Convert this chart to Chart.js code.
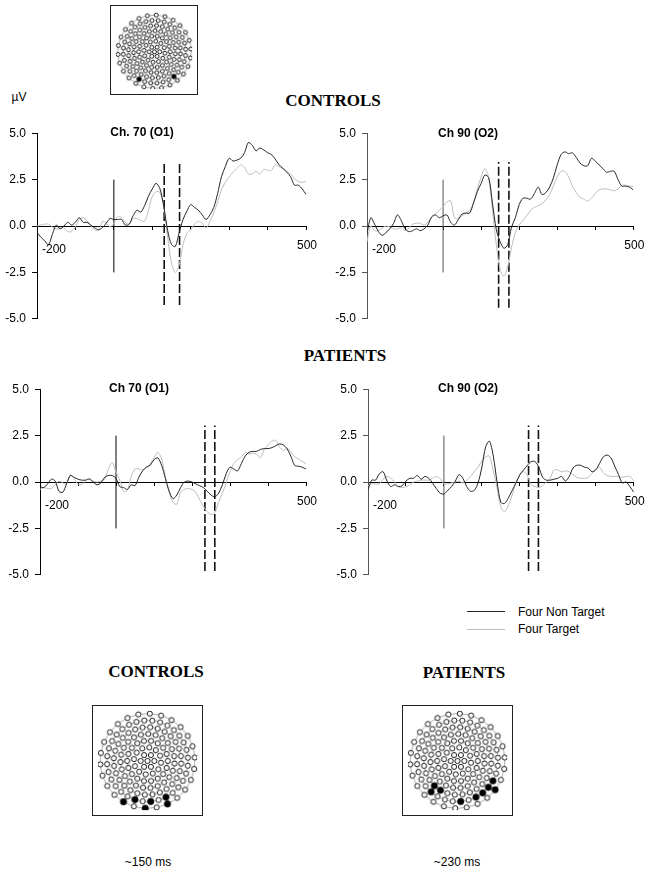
<!DOCTYPE html>
<html>
<head>
<meta charset="utf-8">
<script src="https://cdn.jsdelivr.net/npm/chart.js@4"></script>
<style>
  body { margin: 0; background: #fff; }
  #page { position: relative; width: 645px; height: 876px; overflow: hidden; font-family: "Liberation Sans", Arial, sans-serif; color: #000; }
  canvas { position: absolute; }
  canvas.map { border: 1px solid #222; }
  .t { position: absolute; white-space: nowrap; transform: translate(-50%, -50%); }
  .grp { font-family: "Liberation Serif", "Times New Roman", serif; font-weight: bold; font-size: 17px; }
  .ch { font-weight: bold; font-size: 12px; }
  .lab { font-size: 12px; }
  .key { position: absolute; left: 467px; width: 38px; }
  .keytxt { position: absolute; left: 518px; font-size: 12px; transform: translateY(-50%); white-space: nowrap; }
</style>
</head>
<body>
<div id="page">
  <canvas id="mapTop" class="map" width="88" height="90" style="left:110px;top:5px"></canvas>
  <div class="t lab" style="left:19px;top:97px">µV</div>
  <div class="t grp" style="left:333px;top:101px">CONTROLS</div>

  <canvas id="ctrlO1" width="330" height="212" style="left:0;top:120px"></canvas>
  <canvas id="ctrlO2" width="315" height="212" style="left:330px;top:120px"></canvas>
  <div class="t ch" style="left:142px;top:132px">Ch. 70 (O1)</div>
  <div class="t ch" style="left:468px;top:133px">Ch 90 (O2)</div>

  <div class="t grp" style="left:345px;top:356px">PATIENTS</div>
  <canvas id="patO1" width="327" height="212" style="left:3px;top:376px"></canvas>
  <canvas id="patO2" width="314" height="212" style="left:331px;top:376px"></canvas>
  <div class="t ch" style="left:139px;top:388px">Ch 70 (O1)</div>
  <div class="t ch" style="left:468px;top:388px">Ch 90 (O2)</div>

  <div class="key" style="top:611px;border-top:1.3px solid #262626"></div>
  <div class="keytxt" style="top:612px">Four Non Target</div>
  <div class="key" style="top:629px;border-top:1px solid #bdbdbd"></div>
  <div class="keytxt" style="top:629px">Four Target</div>

  <div class="t grp" style="left:156px;top:672px">CONTROLS</div>
  <div class="t grp" style="left:464px;top:673px">PATIENTS</div>
  <canvas id="mapCtrl" class="map" width="111" height="111" style="left:92px;top:705px"></canvas>
  <canvas id="mapPat" class="map" width="111" height="111" style="left:402px;top:705px"></canvas>
  <div class="t lab" style="left:148px;top:862px">~150 ms</div>
  <div class="t lab" style="left:457px;top:862px">~230 ms</div>
</div>

<script>
// Time axis (ms) shared by all four ERP panels
const times = [-200, -190, -180, -170, -160, -150, -140, -130, -120, -110, -100, -90, -80, -70, -60, -50, -40, -30, -20, -10,
  0, 10, 20, 30, 40, 50, 60, 70, 80, 90, 100, 110, 120, 130, 140, 150, 160, 170, 180, 190,
  200, 210, 220, 230, 240, 250, 260, 270, 280, 290, 300, 310, 320, 330, 340, 350, 360, 370, 380, 390,
  400, 410, 420, 430, 440, 450, 460, 470, 480, 490, 500];

// Controls, Ch. 70 (O1)
const ctrlO1NonTarget = [-0.35, -0.6, -0.8, -1.0, -0.45, 0.05, -0.15, 0.0, 0.2, 0.05, 0.2, 0.45, 0.2, 0.2, 0.05, -0.1, -0.2, -0.1, 0.15, 0.4,
  0.35, 0.35, 0.35, 0.05, 0.1, 0.55, 0.85, 0.75, 1.1, 1.6, 2.0, 2.3, 2.0, 1.05, -0.25, -1.0, -1.1, -0.35, 0.35, 0.8,
  1.15, 1.0, 0.85, 0.6, 0.35, 0.6, 1.0, 1.75, 2.65, 3.2, 3.65, 3.5, 3.55, 3.65, 3.95, 4.5, 4.35, 4.05, 4.2, 4.1,
  3.95, 3.85, 3.6, 3.3, 3.1, 2.9, 2.65, 2.2, 2.2, 2.0, 1.7];
const ctrlO1Target = [0.0, 0.05, 0.1, 0.1, -0.05, -0.15, -0.15, -0.1, -0.3, -0.3, -0.05, 0.35, 0.45, 0.3, 0.0, -0.2, -0.25, 0.25, 0.15, -0.05,
  0.15, 0.5, 0.45, 0.2, 0.1, 0.4, 0.4, 0.3, 0.25, 0.85, 1.6, 1.85, 1.8, 1.0, -0.6, -2.0, -2.5, -2.1, -1.0, -0.4,
  -0.2, 0.1, 0.25, 0.15, -0.1, 0.25, 0.7, 1.3, 1.95, 2.35, 2.65, 2.9, 3.1, 3.3, 3.15, 2.8, 2.8, 2.95, 2.8, 3.05,
  3.0, 3.0, 3.3, 3.2, 3.1, 2.95, 2.8, 2.55, 2.4, 2.35, 2.4];

// Controls, Ch 90 (O2)
const ctrlO2NonTarget = [-0.4, 0.45, 0.1, -0.3, -0.5, -0.35, -0.15, 0.15, 0.6, 0.3, -0.15, -0.3, -0.25, -0.15, -0.25, -0.15, 0.05, 0.5, 0.6, 0.45,
  0.55, 0.6, 0.2, 0.05, 0.35, 0.65, 0.7, 0.7, 1.25, 1.85, 2.3, 2.75, 2.6, 1.2, -0.2, -0.85, -1.2, -1.0, -0.05, 0.45,
  1.15, 1.5, 1.5, 1.45, 1.75, 2.1, 1.7, 1.8, 2.1, 2.6, 3.3, 3.85, 4.0, 3.9, 3.95, 3.7, 3.4, 3.25, 3.25, 3.65,
  3.5, 3.3, 3.1, 2.9, 2.95, 2.95, 2.5, 2.15, 2.15, 2.1, 1.95];
const ctrlO2Target = [-0.85, 0.0, -0.25, -0.25, -0.1, 0.0, -0.05, -0.15, -0.15, -0.1, -0.25, -0.1, 0.1, 0.15, 0.15, 0.05, 0.2, 0.45, 0.65, 0.85,
  1.05, 1.3, 1.35, 0.45, 0.4, 0.55, 0.7, 0.85, 1.25, 2.0, 2.65, 3.1, 2.6, 0.8, -1.0, -2.35, -2.7, -2.2, -1.15, -0.35,
  0.05, 0.3, 0.55, 0.85, 1.0, 1.1, 1.2, 1.4, 1.7, 2.15, 2.65, 2.95, 2.95, 2.65, 2.15, 1.8, 1.55, 1.45, 1.35, 1.5,
  1.75, 1.95, 2.0, 2.0, 1.95, 1.9, 2.0, 2.2, 2.2, 2.15, 2.15];

// Patients, Ch 70 (O1)
const patO1NonTarget = [-0.25, -0.3, -0.1, 0.15, 0.05, -0.5, -0.55, -0.1, 0.35, 0.25, 0.15, 0.1, 0.1, 0.15, 0.0, -0.15, -0.05, 0.25, 0.35, 0.35,
  0.2, -0.25, -0.3, -0.4, -0.15, -0.2, 0.25, 0.6, 0.8, 0.9, 1.2, 1.3, 0.9, 0.2, -0.5, -0.9, -0.7, -0.3, 0.0, 0.05,
  0.0, -0.1, -0.2, -0.3, -0.5, -0.7, -0.8, -0.6, -0.15, 0.45, 0.8, 0.7, 0.6, 1.0, 1.4, 1.6, 1.65, 1.65, 1.75, 1.8,
  1.8, 1.85, 1.95, 2.05, 2.0, 1.8, 1.4, 0.9, 0.85, 0.8, 0.7];
const patO1Target = [-0.4, -0.3, -0.35, -0.35, -0.15, 0.05, -0.05, -0.1, 0.4, 0.15, -0.1, -0.15, 0.1, 0.2, 0.05, 0.0, 0.05, 0.15, 0.7, 1.05,
  0.55, 0.1, -0.5, -0.45, 0.3, 0.7, 0.7, 0.65, 0.75, 1.0, 1.3, 1.6, 1.25, 0.25, -0.55, -1.1, -1.2, -0.55, -0.4, -0.35,
  -0.4, -0.55, -0.95, -1.3, -1.6, -1.75, -1.65, -1.1, -0.6, -0.05, 0.55, 1.0, 1.2, 1.35, 1.6, 1.5, 1.55, 1.5, 1.3, 1.75,
  2.0, 2.2, 2.25, 1.9, 1.7, 1.8, 1.65, 1.35, 1.25, 1.1, 1.0];

// Patients, Ch 90 (O2)
const patO2NonTarget = [-0.4, 0.1, 0.1, 0.45, 0.55, 0.05, -0.25, -0.15, -0.25, -0.2, 0.05, 0.2, 0.2, 0.35, 0.15, 0.3, 0.2, -0.05, -0.35, -0.6,
  -0.65, -0.45, -0.25, 0.05, 0.4, 0.2, -0.25, -0.5, -0.45, -0.05, 0.8, 1.9, 2.2, 1.4, 0.0, -1.1, -1.15, -0.85, -0.45, -0.05,
  0.4, 0.65, 0.9, 1.1, 1.1, 0.8, 0.25, 0.1, 0.1, 0.15, 0.2, 0.3, 0.05, 0.3, 0.75, 0.9, 0.9, 0.8, 0.75, 0.55,
  0.65, 1.0, 1.35, 1.45, 1.3, 0.85, 0.4, -0.05, 0.0, -0.25, -0.55];
const patO2Target = [-0.2, -0.1, -0.1, -0.1, 0.15, 0.3, 0.2, 0.0, -0.25, -0.3, -0.25, -0.15, 0.0, 0.05, 0.1, 0.1, 0.1, 0.2, 0.3, 0.2,
  -0.1, -0.1, -0.05, 0.0, 0.05, -0.05, 0.1, 0.3, 0.55, 0.8, 1.15, 1.35, 1.4, 0.6, -0.3, -1.35, -1.6, -1.25, -0.7, 0.0,
  0.35, 0.55, 0.35, -0.15, -0.25, -0.3, -0.2, 0.0, 0.2, 0.65, 0.65, 0.55, 0.6, 0.55, 0.4, 0.25, 0.2, 0.2, 0.25, 0.45,
  0.7, 0.8, 0.5, 0.35, 0.3, 0.3, 0.3, 0.25, 0.3, 0.3, 0.05];

// Axis ticks and markers
const yTicks = [-5, -2.5, 0, 2.5, 5];
const xTickLabels = [-200, 500];
const stimulusSpan = [-2.5, 2.5];
const ctrlO1Window = [131, 171];
const ctrlO2Window = [146, 173];
const patO1Window = [234, 260];
const patO2Window = [223, 249];
const ctrlO1WindowSpan = [-4.25, 3.5];
const ctrlO2WindowSpan = [-4.4, 3.45];
const patWindowSpan = [-4.8, 3.05];

// Electrode montage (head radius = 1)
const ringRadius = [0, 0.14, 0.28, 0.42, 0.56, 0.70, 0.84, 0.98];
const ringCount = [1, 6, 12, 18, 23, 28, 32, 26];
const ringTurn = [0, 0.5, 0.25, 0.5, 0.1, 0.35, 0.6, 0.2];
const headRings = [0.42, 0.56, 0.70, 0.84, 0.98];
const topActive = [[-0.38, -0.76], [0.5, -0.76]];
const ctrlActive = [[-0.49, -0.81], [-0.29, -0.81], [0.36, -0.69], [0.4, -0.83], [0.08, -0.9], [-0.08, -0.98]];
const patActive = [[0.71, -0.35], [-0.48, -0.51], [0.6, -0.51], [-0.56, -0.63], [0.8, -0.63], [-0.31, -0.69], [0.58, -0.69], [0.37, -0.76], [0.1, -0.9]];

Chart.defaults.font.family = '"Liberation Sans", Arial, sans-serif';
Chart.defaults.color = '#000';

const pts = vals => times.map((t, i) => ({ x: t, y: vals[i] }));

// -200 and 500 labels under the zero line
const xEndLabels = {
  id: 'xEndLabels',
  afterDraw(chart) {
    const { ctx, scales: { x, y } } = chart;
    const y0 = y.getPixelForValue(0);
    ctx.save();
    ctx.font = '12px "Liberation Sans", Arial, sans-serif';
    ctx.fillStyle = '#000';
    ctx.textAlign = 'center';
    ctx.textBaseline = 'middle';
    ctx.fillText(String(xTickLabels[0]), x.getPixelForValue(xTickLabels[0]) + 17, y0 + 24);
    ctx.fillText(String(xTickLabels[1]), x.getPixelForValue(xTickLabels[1]) + 1, y0 + 20);
    ctx.restore();
  }
};

function drawErp(id, nonTarget, target, win, winSpan, pad, axisColor) {
  const vline = (t, span) => span.map(v => ({ x: t, y: v }));
  new Chart(document.getElementById(id), {
    type: 'line',
    data: {
      datasets: [
        { data: pts(nonTarget), borderColor: '#262626', borderWidth: 1, pointRadius: 0, tension: 0.3 },
        { data: pts(target), borderColor: '#bdbdbd', borderWidth: 1, pointRadius: 0, tension: 0.3 },
        { data: vline(0, stimulusSpan), borderColor: axisColor, borderWidth: 1, pointRadius: 0 },
        { data: vline(win[0], winSpan), borderColor: '#111', borderWidth: 1.6, borderDash: [9, 3], pointRadius: 0 },
        { data: vline(win[1], winSpan), borderColor: '#111', borderWidth: 1.6, borderDash: [9, 3], pointRadius: 0 }
      ]
    },
    options: {
      responsive: false,
      animation: false,
      events: [],
      devicePixelRatio: 1,
      layout: { padding: pad },
      plugins: { legend: { display: false }, tooltip: { enabled: false } },
      scales: {
        x: {
          type: 'linear', min: -200, max: 500, position: { y: 0 },
          ticks: { display: false, stepSize: 100 },
          grid: { drawOnChartArea: false, tickLength: 3, color: '#000' },
          border: { color: '#000', width: 1 }
        },
        y: {
          type: 'linear', min: -5, max: 5,
          afterBuildTicks: s => { s.ticks = yTicks.map(v => ({ value: v })); },
          afterFit: s => { s.width = 37; },
          ticks: { callback: v => v.toFixed(1), font: { size: 12 }, color: '#000', padding: 6 },
          grid: { drawOnChartArea: false, tickLength: 5, color: axisColor },
          border: { color: axisColor, width: 1 }
        }
      }
    },
    plugins: [xEndLabels]
  });
}

drawErp('ctrlO1', ctrlO1NonTarget, ctrlO1Target, ctrlO1Window, ctrlO1WindowSpan, { top: 11.7, right: 24, bottom: 12.3, left: 0 }, '#000');
drawErp('ctrlO2', ctrlO2NonTarget, ctrlO2Target, ctrlO2Window, ctrlO2WindowSpan, { top: 13.3, right: 11.7, bottom: 11.3, left: 0 }, '#555');
drawErp('patO1', patO1NonTarget, patO1Target, patO1Window, patWindowSpan, { top: 12.3, right: 24, bottom: 13, left: 0 }, '#000');
drawErp('patO2', patO2NonTarget, patO2Target, patO2Window, patWindowSpan, { top: 12.3, right: 11.3, bottom: 13, left: 0 }, '#555');

// Electrode maps
function montage() {
  const sites = [];
  ringRadius.forEach((r, i) => {
    for (let k = 0; k < ringCount[i]; k++) {
      const a = (k + ringTurn[i]) / ringCount[i] * 2 * Math.PI;
      sites.push({ x: r * Math.sin(a), y: r * Math.cos(a) });
    }
  });
  return sites;
}

function nearest(sites, p) {
  let best = 0, bestD = Infinity;
  sites.forEach((s, i) => {
    const d = (s.x - p[0]) ** 2 + (s.y - p[1]) ** 2;
    if (d < bestD) { bestD = d; best = i; }
  });
  return best;
}

// cx, cy: head centre inside the canvas, in pixels
function drawMap(id, active, radiusPx, cx, cy, dotR, activeR) {
  const canvas = document.getElementById(id);
  const sites = montage();
  const on = new Set(active.map(p => nearest(sites, p)));
  new Chart(canvas, {
    type: 'scatter',
    data: {
      datasets: [
        { data: sites.filter((s, i) => on.has(i)), pointRadius: activeR, pointBackgroundColor: '#000', pointBorderColor: '#000', pointBorderWidth: 0.8 },
        { data: sites.filter((s, i) => !on.has(i)), pointRadius: dotR, pointBackgroundColor: '#fff', pointBorderColor: '#000', pointBorderWidth: 0.9 },
        {
          data: headRings.map(() => ({ x: 0, y: 0 })),
          pointRadius: ctx => {
            const s = ctx.chart.scales.x;
            return s.getPixelForValue(headRings[ctx.dataIndex]) - s.getPixelForValue(0);
          },
          pointBackgroundColor: 'rgba(0,0,0,0)', pointBorderColor: '#a8a8a8', pointBorderWidth: 1
        }
      ]
    },
    options: {
      responsive: false,
      animation: false,
      events: [],
      devicePixelRatio: 1,
      layout: { padding: 0 },
      plugins: { legend: { display: false }, tooltip: { enabled: false } },
      scales: {
        x: { type: 'linear', display: false, min: -cx / radiusPx, max: (canvas.width - cx) / radiusPx },
        y: { type: 'linear', display: false, min: -(canvas.height - cy) / radiusPx, max: cy / radiusPx }
      }
    }
  });
}

drawMap('mapTop', topActive, 43, 44.5, 47, 2.0, 2.4);
drawMap('mapCtrl', ctrlActive, 54, 55.5, 56, 2.6, 3.2);
drawMap('mapPat', patActive, 54, 55.5, 56, 2.6, 3.2);
</script>
</body>
</html>
